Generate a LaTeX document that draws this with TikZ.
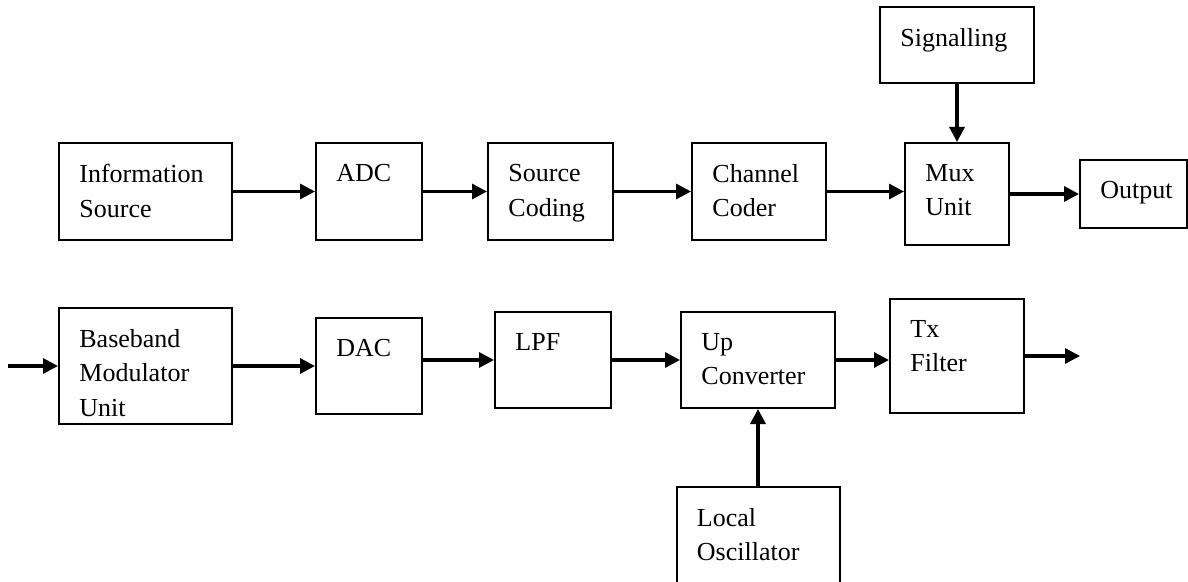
\documentclass[tikz,border=0pt]{standalone}
\usepackage{fontspec}
\setmainfont{Liberation Serif}
\usetikzlibrary{arrows.meta}

\begin{document}
\begin{tikzpicture}[node distance=100pt,
    >={Triangle[length=7.5pt,width=7.5pt]},
    blk/.style={draw, line width=1pt, inner sep=0pt},
    wire/.style={->, line width=1.6pt},
    txt/.style={label={[anchor=north west, align=left, inner sep=0pt,
        xshift=10.5pt, yshift=-11pt,
        font=\fontsize{13}{17.25}\selectfont]north west:#1}}]
        \useasboundingbox (0,0) rectangle (594pt,-291pt);
        % first row
        \node [blk, txt={Information\\Source}, minimum width=86.5pt, minimum height=48.5pt] (1) at (72.75pt,-95.75pt) {};
        \node [blk, txt={ADC}, minimum width=53pt, minimum height=48.5pt, right of=1, xshift=11.75pt] (2) {};
        \node [blk, txt={Source\\Coding}, minimum width=62.5pt, minimum height=48.5pt, right of=2, xshift=-9.25pt] (3) {};
        \node [blk, txt={Channel\\Coder}, minimum width=67pt, minimum height=48.5pt, right of=3, xshift=4.25pt] (4) {};
        \node [blk, txt={Mux\\Unit}, minimum width=52pt, minimum height=51pt, right of=4, xshift=-1pt, yshift=-1.25pt] (5) {};
        \node [blk, txt={Signalling}, minimum width=77pt, minimum height=38pt, above of=5, yshift=-25.5pt] (6) {};
        \node [blk, txt={Output}, minimum width=53.5pt, minimum height=34pt, right of=5, xshift=-11.75pt] (7) {};
        \draw[wire] (1) -- (2);
        \draw[wire] (2) -- (3);
        \draw[wire] (3) -- (4);
        \draw[wire] (4) -- (4 -| 5.west);
        \draw[wire] (6) -- (5);
        \draw[wire] (5) -- (7);
        % second row
        \node [blk, txt={Baseband\\Modulator\\Unit}, minimum width=86.5pt, minimum height=58pt, below of=1, yshift=12.75pt] (8) {};
        \node [blk, txt={DAC}, minimum width=53pt, minimum height=48pt, right of=8, xshift=11.75pt] (9) {};
        \node [blk, txt={LPF}, minimum width=58pt, minimum height=48pt, right of=9, xshift=-8pt, yshift=3pt] (10) {};
        \node [blk, txt={Up\\Converter}, minimum width=77pt, minimum height=48pt, right of=10, xshift=2.5pt] (11) {};
        \node [blk, txt={Tx\\Filter}, minimum width=67pt, minimum height=57pt, right of=11, xshift=-0.5pt, yshift=2pt] (12) {};
        \node [blk, txt={Local\\Oscillator}, minimum width=81.5pt, minimum height=60pt, below of=11, yshift=6.5pt] (13) {};
        \coordinate [left of=8, xshift=31.25pt] (in);
        \coordinate [right of=12, xshift=-38.5pt] (end);
        \draw[wire] (in) -- (8);
        \draw[wire] (8) -- (9);
        \draw[wire] (10 -| 9.east) -- (10);
        \draw[wire] (10) -- (11);
        \draw[wire] (11) -- (11 -| 12.west);
        \draw[wire] (12) -- (end);
        \draw[wire] (13) -- (11);
      \end{tikzpicture}
\end{document}
